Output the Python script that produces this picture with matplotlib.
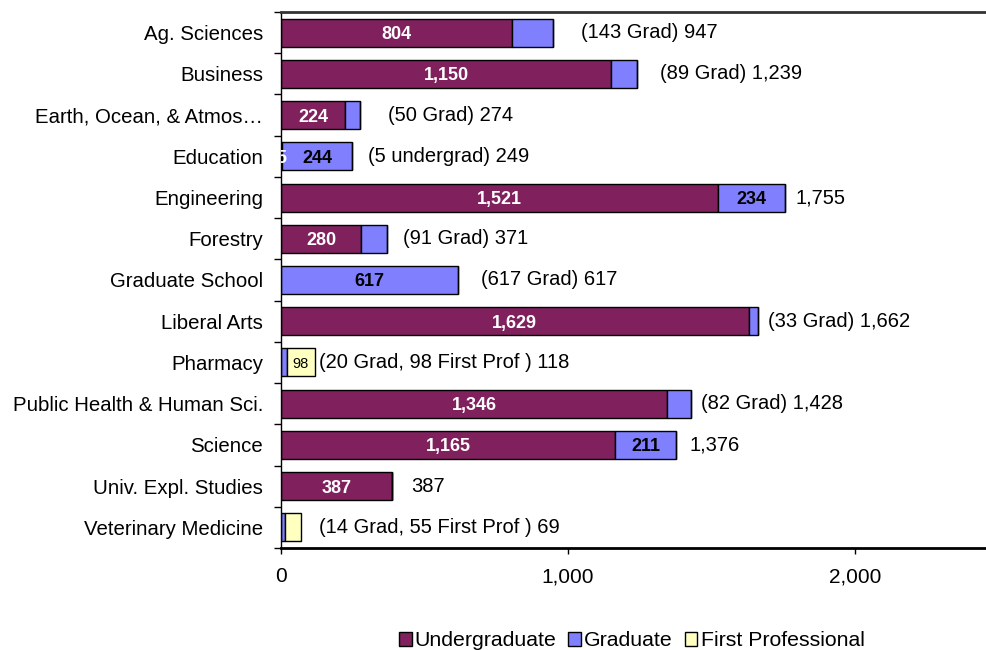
import numpy as np
import matplotlib.pyplot as plt

plt.rcParams['font.family'] = ['Liberation Sans', 'DejaVu Sans']

# data
colleges = ['Ag. Sciences', 'Business', 'Earth, Ocean, & Atmos\u2026', 'Education',
            'Engineering', 'Forestry', 'Graduate School', 'Liberal Arts',
            'Pharmacy', 'Public Health & Human Sci.', 'Science',
            'Univ. Expl. Studies', 'Veterinary Medicine']
undergrad = [804, 1150, 224, 5, 1521, 280, 0, 1629, 0, 1346, 1165, 387, 0]
grad = [143, 89, 50, 244, 234, 91, 617, 33, 20, 82, 211, 0, 14]
first_prof = [0, 0, 0, 0, 0, 0, 0, 0, 98, 0, 0, 0, 55]
ug_shown = [True, True, True, True, True, True, False, True, False, True, True, True, False]
grad_shown = [False, False, False, True, True, False, True, False, False, False, True, False, False]
fp_shown = [False] * 8 + [True] + [False] * 4
side_labels = ['(143 Grad) 947', '(89 Grad) 1,239', '(50 Grad) 274',
               '(5 undergrad) 249', '1,755', '(91 Grad) 371', '(617 Grad) 617',
               '(33 Grad) 1,662', '(20 Grad, 98 First Prof ) 118',
               '(82 Grad) 1,428', '1,376', '387', '(14 Grad, 55 First Prof ) 69']
# gap (pixels) between bar end and its side label, as placed in the original
label_pad = [28, 23, 28, 16, 11, 16, 23, 10, 4, 10, 14, 19, 18]

c_ug = '#80215E'
c_grad = '#8080FF'
c_fp = '#FFFFC0'

ug = np.array(undergrad)
gr = np.array(grad)
fp = np.array(first_prof)
y = np.arange(len(colleges))
h = 0.68

fig = plt.figure(figsize=(9.87, 6.5), dpi=100)
ax = fig.add_axes([0.2847, 0.157, 0.7153, 0.8245])

ax.barh(y, ug, h, color=c_ug, edgecolor='black', lw=1, label='Undergraduate')
ax.barh(y, gr, h, left=ug, color=c_grad, edgecolor='black', lw=1, label='Graduate')
ax.barh(y, fp, h, left=ug + gr, color=c_fp, edgecolor='black', lw=1,
        label='First Professional')

for i in range(len(colleges)):
    if ug_shown[i]:
        ax.text(ug[i] / 2, y[i], f'{ug[i]:,}', ha='center', va='center_baseline',
                color='white', fontweight='bold', fontsize=13, clip_on=True)
    if grad_shown[i]:
        ax.text(ug[i] + gr[i] / 2, y[i], f'{gr[i]:,}', ha='center',
                va='center_baseline', color='black', fontweight='bold', fontsize=13)
    if fp_shown[i]:
        ax.text(ug[i] + gr[i] + fp[i] / 2, y[i], f'{fp[i]:,}', ha='center',
                va='center_baseline', color='black', fontsize=10.5)
    tot = ug[i] + gr[i] + fp[i]
    ax.annotate(side_labels[i], (tot, y[i]), xytext=(label_pad[i] * 0.72, 0),
                textcoords='offset points', ha='left', va='center', fontsize=14.5)

ax.set_xlim(0, 2460)
ax.set_ylim(len(colleges) - 0.5, -0.5)
ax.set_xticks([0, 1000, 2000])
ax.set_xticklabels(['0', '1,000', '2,000'], fontsize=15)
ax.tick_params(axis='x', length=4, width=1, pad=10)

ax.set_yticks(y)
ax.set_yticklabels(colleges, fontsize=14.7)
ax.set_yticks(np.arange(len(colleges) + 1) - 0.5, minor=True)
ax.tick_params(axis='y', which='major', length=0, pad=13)
ax.tick_params(axis='y', which='minor', length=5, width=1)

ax.spines['right'].set_visible(False)
ax.spines['top'].set_color('#333333')
ax.spines['top'].set_linewidth(2)
ax.spines['bottom'].set_linewidth(2)
ax.spines['left'].set_linewidth(1)

fig.legend(loc='center', bbox_to_anchor=(0.64, 1 - 641 / 650), ncol=3, frameon=False,
           fontsize=15.3, handlelength=0.6, handleheight=0.6, handletextpad=0.15,
           columnspacing=0.55)

fig.savefig('out.png', dpi=100)
